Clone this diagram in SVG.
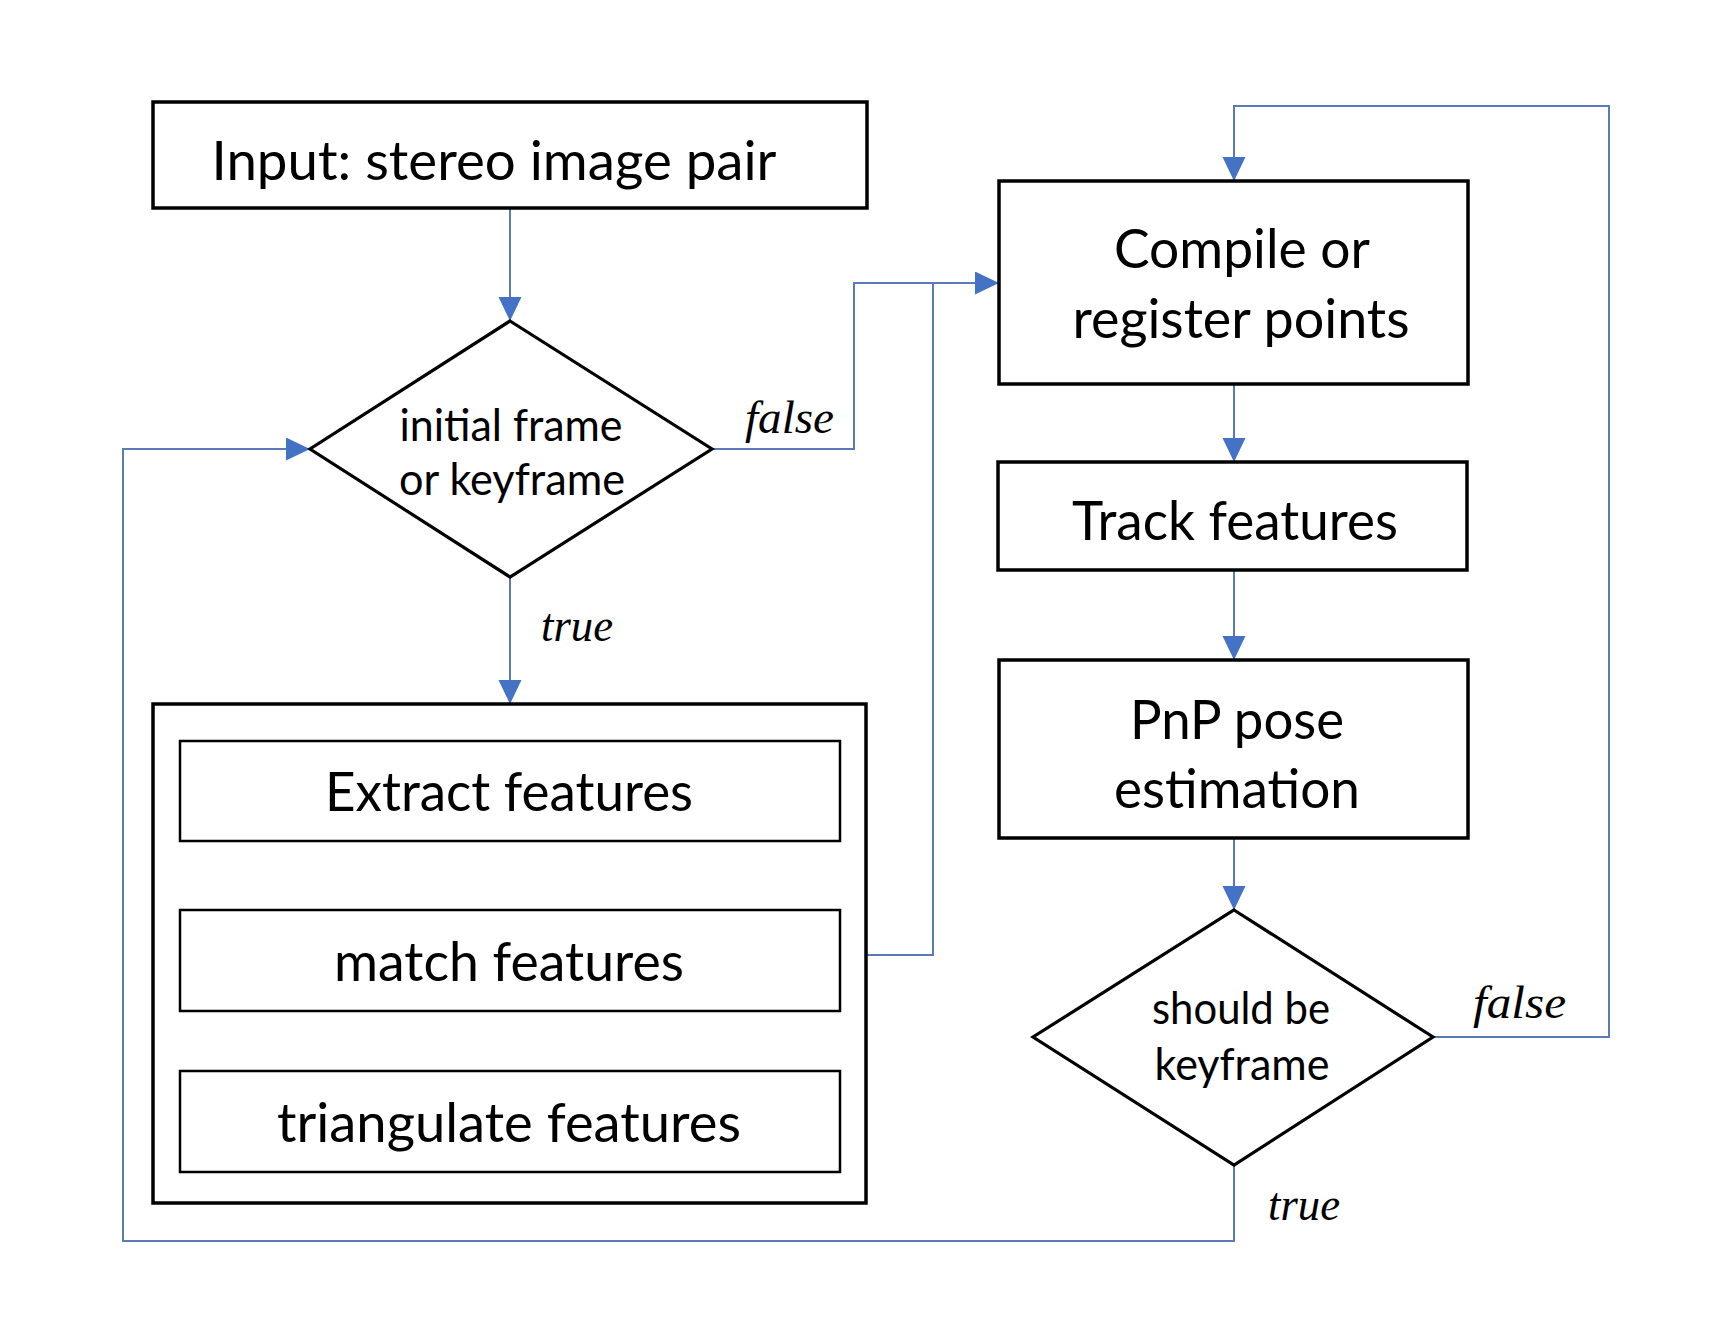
<svg xmlns="http://www.w3.org/2000/svg" width="1717" height="1337" viewBox="0 0 1717 1337">
<defs>
<marker id="arr" markerUnits="userSpaceOnUse" markerWidth="26" markerHeight="24" refX="24" refY="11.5" orient="auto">
<path d="M0,0 L24,11.5 L0,23 z" fill="#4472C4"/>
</marker>
</defs>
<style>
.box{fill:#fff;stroke:#000;stroke-width:3.5}
.inner{fill:#fff;stroke:#000;stroke-width:2.5}
.dia{fill:#fff;stroke:#000;stroke-width:3.2}
.t{font-family:Lato,"Open Sans","Liberation Sans",sans-serif;font-size:55px;fill:#000;text-anchor:middle}
.td{font-family:Lato,"Open Sans","Liberation Sans",sans-serif;font-size:44px;fill:#000;text-anchor:middle}
.lbl{font-family:"Liberation Serif",serif;font-style:italic;font-size:46px;fill:#000}
.c{fill:none;stroke:#5A7BB5;stroke-width:2}
</style>
<rect width="1717" height="1337" fill="#fff"/>
<g id="connectors">
<path class="c" d="M510,208 L510,321" marker-end="url(#arr)"/>
<path class="c" d="M712,449 L854,449 L854,283 L999,283" marker-end="url(#arr)"/>
<path class="c" d="M866,955 L933,955 L933,283"/>
<path class="c" d="M510,577 L510,704" marker-end="url(#arr)"/>
<path class="c" d="M509,841 L509,910" marker-end="url(#arr)"/>
<path class="c" d="M509,1011 L509,1071" marker-end="url(#arr)"/>
<path class="c" d="M1234,384 L1234,462" marker-end="url(#arr)"/>
<path class="c" d="M1234,570 L1234,660" marker-end="url(#arr)"/>
<path class="c" d="M1234,838 L1234,910" marker-end="url(#arr)"/>
<path class="c" d="M1433,1037 L1609,1037 L1609,106 L1234,106 L1234,181" marker-end="url(#arr)"/>
<path class="c" d="M1234,1165 L1234,1241 L123,1241 L123,449 L310,449" marker-end="url(#arr)"/>
</g>
<g id="input">
<rect class="box" x="153" y="102" width="714" height="106"/>
<text class="t" x="494" y="180" textLength="565" lengthAdjust="spacingAndGlyphs">Input: stereo image pair</text>
</g>
<g id="decision1">
<polygon class="dia" points="510,321 712,449 510,577 310,449"/>
<text class="td" x="511" y="441" textLength="223" lengthAdjust="spacingAndGlyphs">initial frame</text>
<text class="td" x="512" y="495" textLength="226" lengthAdjust="spacingAndGlyphs">or keyframe</text>
</g>
<g id="label-false1"><text class="lbl" x="745" y="433" textLength="89" lengthAdjust="spacingAndGlyphs">false</text></g>
<g id="label-true1"><text class="lbl" x="541" y="641" textLength="72" lengthAdjust="spacingAndGlyphs">true</text></g>
<g id="group-box">
<rect class="box" x="153" y="704" width="713" height="499"/>
</g>
<g id="extract">
<rect class="inner" x="180" y="741" width="660" height="100"/>
<text class="t" x="509" y="811" textLength="368" lengthAdjust="spacingAndGlyphs">Extract features</text>
</g>
<g id="match">
<rect class="inner" x="180" y="910" width="660" height="101"/>
<text class="t" x="509" y="981" textLength="350" lengthAdjust="spacingAndGlyphs">match features</text>
</g>
<g id="triangulate">
<rect class="inner" x="180" y="1071" width="660" height="101"/>
<text class="t" x="509" y="1142" textLength="464" lengthAdjust="spacingAndGlyphs">triangulate features</text>
</g>
<g id="compile">
<rect class="box" x="999" y="181" width="469" height="203"/>
<text class="t" x="1242" y="268" textLength="256" lengthAdjust="spacingAndGlyphs">Compile or</text>
<text class="t" x="1241" y="338" textLength="337" lengthAdjust="spacingAndGlyphs">register points</text>
</g>
<g id="track">
<rect class="box" x="998" y="462" width="469" height="108"/>
<text class="t" x="1235" y="540" textLength="326" lengthAdjust="spacingAndGlyphs">Track features</text>
</g>
<g id="pnp">
<rect class="box" x="999" y="660" width="469" height="178"/>
<text class="t" x="1237" y="739" textLength="214" lengthAdjust="spacingAndGlyphs">PnP pose</text>
<text class="t" x="1237" y="808" textLength="246" lengthAdjust="spacingAndGlyphs">estimation</text>
</g>
<g id="decision2">
<polygon class="dia" points="1234,910 1433,1037 1234,1165 1033,1037"/>
<text class="td" x="1241" y="1024" textLength="178" lengthAdjust="spacingAndGlyphs">should be</text>
<text class="td" x="1242" y="1080" textLength="175" lengthAdjust="spacingAndGlyphs">keyframe</text>
</g>
<g id="label-false2"><text class="lbl" x="1473" y="1018" textLength="93" lengthAdjust="spacingAndGlyphs">false</text></g>
<g id="label-true2"><text class="lbl" x="1268" y="1220" textLength="72" lengthAdjust="spacingAndGlyphs">true</text></g>
</svg>
